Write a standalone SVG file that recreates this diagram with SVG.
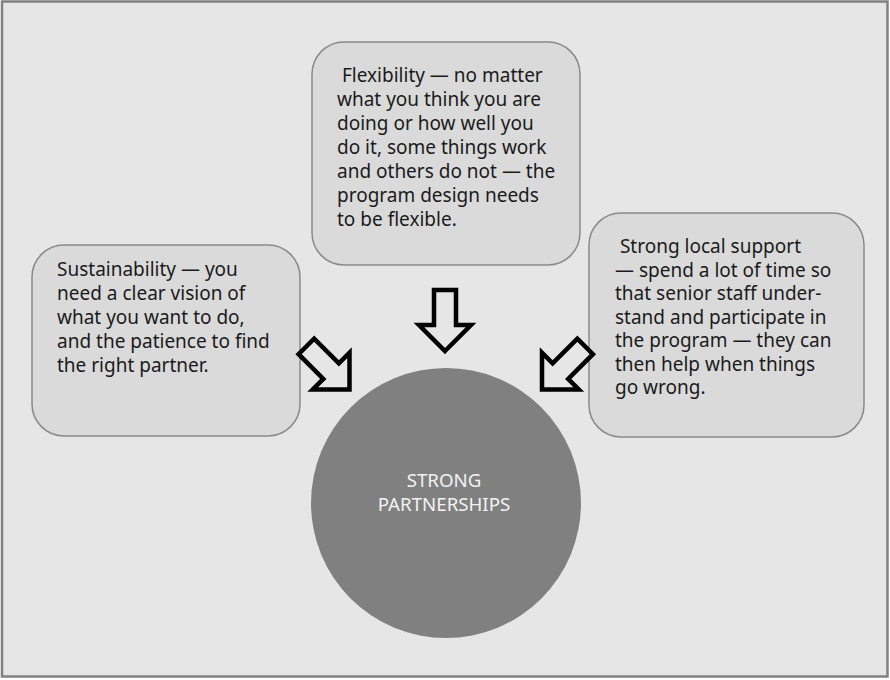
<svg xmlns="http://www.w3.org/2000/svg" width="890" height="680" viewBox="0 0 890 680">
<style>
.box{fill:#dadada;stroke:#8a8a8a;stroke-width:1.5}
.t{font-family:"Noto Sans","Open Sans",sans-serif;font-size:19px;fill:#1a1a1a}
.c{font-family:"Noto Sans","Open Sans",sans-serif;font-size:18.7px;fill:#f2f2f2;text-anchor:middle}
.arr{fill:#e6e6e6;stroke:#000;stroke-width:4.5;stroke-linejoin:miter}
</style>
<defs>
<path id="arrow" d="M0,0 L26,-26 H11 V-61 H-11 V-26 H-26 Z"/>
</defs>
<rect x="2" y="1.5" width="885.5" height="675" fill="#e6e6e6" stroke="#808080" stroke-width="2.5"/>
<g id="node-flexibility">
<rect class="box" x="312" y="42" width="268" height="223" rx="32"/>
<text class="t" xml:space="preserve"><tspan x="337" y="82"> Flexibility — no matter</tspan><tspan x="337" y="106">what you think you are</tspan><tspan x="337" y="130">doing or how well you</tspan><tspan x="337" y="154">do it, some things work</tspan><tspan x="337" y="178">and others do not — the</tspan><tspan x="337" y="202">program design needs</tspan><tspan x="337" y="226">to be flexible.</tspan></text>
</g>
<g id="node-sustainability">
<rect class="box" x="32" y="245" width="268" height="191" rx="32"/>
<text class="t"><tspan x="57" y="276">Sustainability — you</tspan><tspan x="57" y="300">need a clear vision of</tspan><tspan x="57" y="324">what you want to do,</tspan><tspan x="57" y="348">and the patience to find</tspan><tspan x="57" y="372">the right partner.</tspan></text>
</g>
<g id="node-support">
<rect class="box" x="589" y="213" width="275" height="224" rx="32"/>
<text class="t" xml:space="preserve"><tspan x="615" y="253"> Strong local support</tspan><tspan x="615" y="276.5">— spend a lot of time so</tspan><tspan x="615" y="300">that senior staff under-</tspan><tspan x="615" y="323.5">stand and participate in</tspan><tspan x="615" y="347">the program — they can</tspan><tspan x="615" y="370.5">then help when things</tspan><tspan x="615" y="394">go wrong.</tspan></text>
</g>
<g id="connectors">
<use href="#arrow" class="arr" transform="translate(445,351)"/>
<use href="#arrow" class="arr" transform="translate(349.5,389.5) rotate(-45)"/>
<use href="#arrow" class="arr" transform="translate(542,389.5) rotate(45)"/>
</g>
<g id="node-center">
<circle cx="446" cy="503" r="135" fill="#808080"/>
<text class="c"><tspan x="444" y="487">STRONG</tspan><tspan x="444" y="511">PARTNERSHIPS</tspan></text>
</g>
</svg>
